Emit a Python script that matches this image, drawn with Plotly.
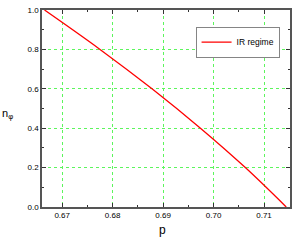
import plotly.graph_objects as go

p_vals = [0.6665, 0.6775, 0.6878, 0.6974, 0.7063, 0.7144]
n_vals = [1.0, 0.8, 0.6, 0.4, 0.2, 0.0]
x_ticks = [0.67, 0.68, 0.69, 0.70, 0.71]
x_labels = ["0.67", "0.68", "0.69", "0.70", "0.71"]
y_ticks = [0.0, 0.2, 0.4, 0.6, 0.8, 1.0]
y_labels = ["0.0", "0.2", "0.4", "0.6", "0.8", "1.0"]
x_title = "p"
y_title = "n<sub>φ</sub>"

fig = go.Figure()
fig.add_trace(go.Scatter(x=p_vals, y=n_vals, mode="lines", name="IR regime",
                         line=dict(color="red", width=1.3, shape="spline")))

fig.update_layout(
    width=306, height=240,
    margin=dict(l=42, r=16, t=10, b=33, autoexpand=False),
    paper_bgcolor="white", plot_bgcolor="white",
    font=dict(family="Liberation Sans, Arial, sans-serif", color="black", size=8),
    showlegend=True,
    legend=dict(x=0.62, y=0.915, xanchor="left", yanchor="top",
                bordercolor="#666666", borderwidth=0.8, bgcolor="white",
                font=dict(size=8.5, color="black"), itemwidth=30, tracegroupgap=0),
    annotations=[
        dict(text=x_title, xref="paper", yref="paper", x=0.487, y=-0.07,
             xanchor="center", yanchor="top", showarrow=False,
             font=dict(size=12, color="black")),
        dict(text=y_title, xref="paper", yref="paper", x=-0.108, y=0.47,
             xanchor="right", yanchor="middle", showarrow=False,
             font=dict(size=11, color="black")),
    ],
)
fig.update_xaxes(
    range=[0.6660, 0.71515], tickvals=x_ticks, ticktext=x_labels, automargin=False,
    ticks="inside", ticklen=4, tickcolor="#333", mirror="allticks",
    showline=True, linecolor="#555", linewidth=1.5,
    showgrid=True, gridcolor="#5cf55c", griddash="dot", gridwidth=0.8,
    zeroline=False,
    minor=dict(tickvals=[0.675, 0.685, 0.695, 0.705], ticks="inside", ticklen=2, tickcolor="#333", showgrid=False),
)
fig.update_yaxes(
    range=[0, 1], tickvals=y_ticks, ticktext=y_labels, automargin=False,
    ticks="inside", ticklen=4, tickcolor="#333", mirror="allticks",
    showline=True, linecolor="#555", linewidth=1.5,
    showgrid=True, gridcolor="#5cf55c", griddash="dot", gridwidth=0.8,
    zeroline=False,
    minor=dict(tickvals=[0.1, 0.3, 0.5, 0.7, 0.9], ticks="inside", ticklen=2, tickcolor="#333", showgrid=False),
)
fig.write_html("out.html", config={"displayModeBar": False},
               post_script="document.body.style.margin='0';")
